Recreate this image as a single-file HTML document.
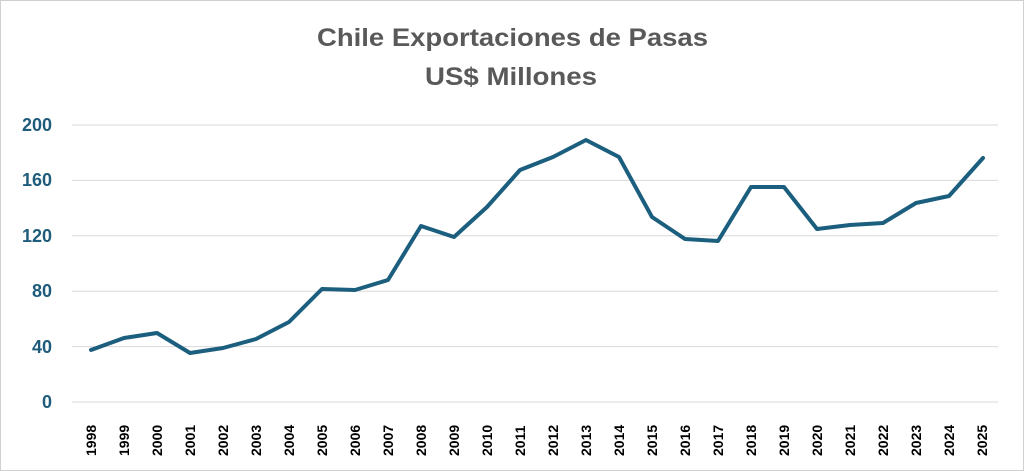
<!DOCTYPE html>
<html><head><meta charset="utf-8"><style>
body{margin:0;background:#fff;}
svg{display:block;font-family:"Liberation Sans",sans-serif;}
</style></head><body>
<svg width="1024" height="471" viewBox="0 0 1024 471">
<rect x="0.5" y="0.5" width="1023" height="470" fill="#fff" stroke="#d0d0d0"/>
<text x="317" y="46" textLength="391" lengthAdjust="spacingAndGlyphs" font-size="25" font-weight="bold" fill="#595959">Chile Exportaciones de Pasas</text>
<text x="425" y="85" textLength="172" lengthAdjust="spacingAndGlyphs" font-size="25" font-weight="bold" fill="#595959">US$ Millones</text>
<g stroke="#d9d9d9" stroke-width="1">
<line x1="72" x2="998" y1="125" y2="125"/>
<line x1="72" x2="998" y1="180.4" y2="180.4"/>
<line x1="72" x2="998" y1="235.8" y2="235.8"/>
<line x1="72" x2="998" y1="291.2" y2="291.2"/>
<line x1="72" x2="998" y1="346.6" y2="346.6"/>
<line x1="72" x2="998" y1="402" y2="402"/>
</g>
<g font-size="18" font-weight="bold" fill="#1f5c7c" text-anchor="end">
<text x="52" y="131">200</text>
<text x="52" y="186">160</text>
<text x="52" y="242">120</text>
<text x="52" y="297">80</text>
<text x="52" y="353">40</text>
<text x="52" y="408">0</text>
</g>
<g font-size="14" font-weight="bold" fill="#000">
<text transform="translate(96,456) rotate(-90)">1998</text>
<text transform="translate(129,456) rotate(-90)">1999</text>
<text transform="translate(162,456) rotate(-90)">2000</text>
<text transform="translate(195,456) rotate(-90)">2001</text>
<text transform="translate(228,456) rotate(-90)">2002</text>
<text transform="translate(261,456) rotate(-90)">2003</text>
<text transform="translate(294,456) rotate(-90)">2004</text>
<text transform="translate(327,456) rotate(-90)">2005</text>
<text transform="translate(360,456) rotate(-90)">2006</text>
<text transform="translate(393,456) rotate(-90)">2007</text>
<text transform="translate(426,456) rotate(-90)">2008</text>
<text transform="translate(459,456) rotate(-90)">2009</text>
<text transform="translate(492,456) rotate(-90)">2010</text>
<text transform="translate(525,456) rotate(-90)">2011</text>
<text transform="translate(558,456) rotate(-90)">2012</text>
<text transform="translate(591,456) rotate(-90)">2013</text>
<text transform="translate(624,456) rotate(-90)">2014</text>
<text transform="translate(657,456) rotate(-90)">2015</text>
<text transform="translate(690,456) rotate(-90)">2016</text>
<text transform="translate(723,456) rotate(-90)">2017</text>
<text transform="translate(756,456) rotate(-90)">2018</text>
<text transform="translate(789,456) rotate(-90)">2019</text>
<text transform="translate(822,456) rotate(-90)">2020</text>
<text transform="translate(855,456) rotate(-90)">2021</text>
<text transform="translate(888,456) rotate(-90)">2022</text>
<text transform="translate(921,456) rotate(-90)">2023</text>
<text transform="translate(954,456) rotate(-90)">2024</text>
<text transform="translate(987,456) rotate(-90)">2025</text>
</g>
<polyline fill="none" stroke="#1b5e7e" stroke-width="4" stroke-linejoin="round" stroke-linecap="round"
points="91,350 124,338 157,333 190,353 223,348 256,339 289,322 322,289 355,290 388,280 421,226 454,237 487,207 520,170 553,157 586,140 619,157 652,217 685,239 718,241 751,187 784,187 817,229 850,225 883,223 916,203 949,196 983,158"/>
</svg>
</body></html>
